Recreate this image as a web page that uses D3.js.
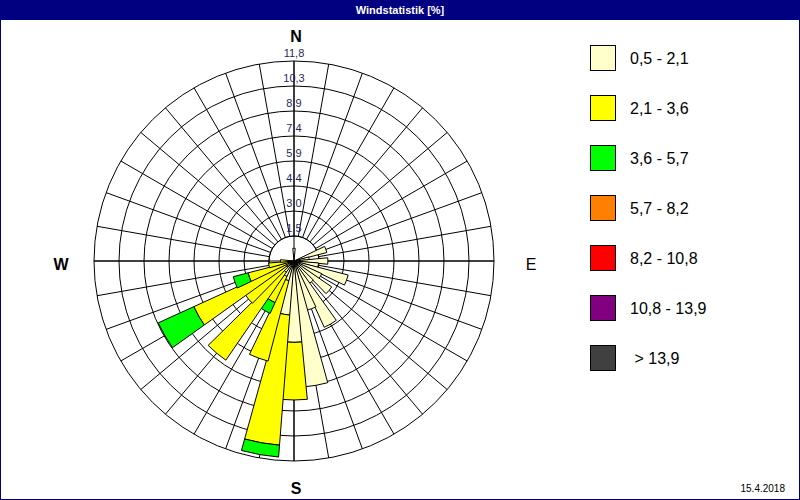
<!DOCTYPE html>
<html><head><meta charset="utf-8">
<script src="https://cdn.jsdelivr.net/npm/d3@7"></script>
<style>body{margin:0;background:#fff}svg{display:block}</style>
</head><body><svg id="c" width="800" height="500"></svg>
<script>
const title = "Windstatistik [%]";
const dateText = "15.4.2018";
const directions = d3.range(0, 360, 10);
// class values (%) per direction, 0..350 by 10
const cls1 = [0.75,0,0,0,0,0,0,2.0,0.9,2.0,1.45,3.3,1.8,2.7,1.6,4.3,3.0,7.45,4.8,3.2,1.2,1.0,0.8,0.5,0.5,0.3,0.3,0.2,0,0,0,0,0,0,0,0];
const cls2 = [0,0,0,0,0,0,0,0,0,0,0,0,0,0,0,0,0,0,3.4,7.7,4.9,1.7,6.3,3.0,6.0,2.5,1.2,0.6,0,0,0,0,0,0,0,0];
const cls3 = [0,0,0,0,0,0,0,0,0,0,0,0,0,0,0,0,0,0,0,0.7,0,0.7,0,0,2.3,0.9,0,0,0,0,0,0,0,0,0,0];
const cls4 = directions.map(()=>0);
const cls5 = directions.map(()=>0);
const cls6 = directions.map(()=>0);
const cls7 = directions.map(()=>0);
const classNames = ["0,5 - 2,1","2,1 - 3,6","3,6 - 5,7","5,7 - 8,2","8,2 - 10,8","10,8 - 13,9"," > 13,9"];
const classColors = ["#FFFFCC","#FFFF00","#00FF00","#FF8000","#FF0000","#800080","#404040"];
const tickValues = [1.475,2.95,4.425,5.9,7.375,8.85,10.325,11.8];
const tickLabels = ["1,5","3,0","4,4","5,9","7,4","8,9","10,3","11,8"];
const compass = [{t:"N",a:0},{t:"E",a:90},{t:"S",a:180},{t:"W",a:270}];

const svg = d3.select("#c");
svg.append("rect").attr("x",0.5).attr("y",0.5).attr("width",799).attr("height",499).attr("fill","#fff").attr("stroke","#000080");
svg.append("rect").attr("x",0).attr("y",0).attr("width",800).attr("height",20).attr("fill","#000080");
svg.append("text").attr("x",400).attr("y",14).attr("text-anchor","middle").attr("fill","#fff")
  .attr("font-family","Liberation Sans, Arial, sans-serif").attr("font-size",11).attr("font-weight","bold").text(title);

const cx = 294, cy = 261;
const r = d3.scaleLinear().domain([0, 11.8]).range([0, 200]);
const g = svg.append("g").attr("transform",`translate(${cx},${cy})`);
const rad = a => a*Math.PI/180;

// rings
g.selectAll("circle.ring").data([0].concat(tickValues)).join("circle")
  .attr("r", d => d===0 ? 25 : r(d)).attr("fill","none").attr("stroke","#000").attr("stroke-width",1);
// spokes
g.selectAll("line.sp").data(directions).join("line")
  .attr("x1", d => r(tickValues[0])*Math.sin(rad(d))).attr("y1", d => -r(tickValues[0])*Math.cos(rad(d)))
  .attr("x2", d => r(11.8)*Math.sin(rad(d))).attr("y2", d => -r(11.8)*Math.cos(rad(d)))
  .attr("stroke","#000").attr("stroke-width",1);
g.append("line").attr("x1",0).attr("y1",-r(11.8)).attr("x2",0).attr("y2",r(11.8)).attr("stroke","#000");
g.append("line").attr("x1",-r(11.8)).attr("y1",0).attr("x2",r(11.8)).attr("y2",0).attr("stroke","#000");

// petals
const series = [cls1,cls2,cls3,cls4,cls5,cls6,cls7];
const arc = d3.arc();
const segs = [];
directions.forEach((d,i)=>{
  let cum = 0;
  series.forEach((s,k)=>{
    const v = s[i];
    if (v>0){
      segs.push({d, k, r0: r(cum), r1: r(cum+v)});
      cum += v;
    }
  });
});
g.selectAll("path.petal").data(segs).join("path")
  .attr("d", s => arc({innerRadius:s.r0, outerRadius:s.r1, startAngle:rad(s.d-5.5), endAngle:rad(s.d+5.5)}))
  .attr("fill", s => classColors[s.k]).attr("stroke","#000").attr("stroke-width",1);

// tick labels
g.selectAll("text.tl").data(tickValues).join("text")
  .attr("x",0).attr("y", (d)=> -r(d)-4)
  .attr("text-anchor","middle").attr("font-family","Liberation Sans, Arial, sans-serif").attr("font-size",11)
  .attr("fill","#2a1f5e").text((d,i)=>tickLabels[i]);

// compass
const cpos = {N:[2,-219],E:[237,9],S:[2,233],W:[-233,9]};
g.selectAll("text.cp").data(compass).join("text")
  .attr("x", d=>cpos[d.t][0]).attr("y", d=>cpos[d.t][1])
  .attr("text-anchor","middle").attr("font-family","Liberation Sans, Arial, sans-serif").attr("font-size",16)
  .attr("font-weight", d => d.t==="E" ? "normal" : "bold").attr("fill","#000").text(d=>d.t);

// legend
const lg = svg.append("g");
classNames.forEach((n,i)=>{
  lg.append("rect").attr("x",590.5).attr("y",45.5+50*i).attr("width",25).attr("height",25)
    .attr("fill",classColors[i]).attr("stroke","#000");
  lg.append("text").attr("x",630).attr("y",64+50*i).attr("font-family","Liberation Sans, Arial, sans-serif")
    .attr("font-size",16).attr("fill","#000").attr("xml:space","preserve").style("white-space","pre").text(n);
});
svg.append("text").attr("x",785).attr("y",492).attr("text-anchor","end").attr("font-family","Liberation Sans, Arial, sans-serif")
  .attr("font-size",10).attr("fill","#000").text(dateText);
</script></body></html>
